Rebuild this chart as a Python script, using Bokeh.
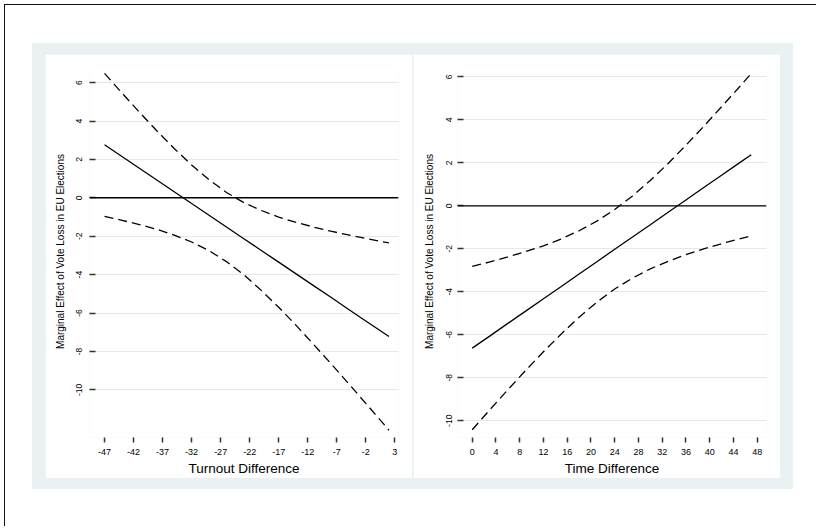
from bokeh.plotting import figure
from bokeh.layouts import row, column
from bokeh.models import Range1d, FixedTicker, Span, Spacer
from bokeh.embed import file_html
from bokeh.resources import INLINE

# ---- data ----
turnout_x = [-47, -44, -41, -38, -35, -32, -29, -26, -23, -20, -17, -14, -11, -8, -5, -2, 2]
turnout_effect = [2.76, 2.15, 1.54, 0.93, 0.32, -0.30, -0.91, -1.52, -2.13, -2.74, -3.35, -3.96, -4.57, -5.18, -5.80, -6.41, -7.22]
turnout_upper = [6.48, 5.46, 4.46, 3.49, 2.57, 1.71, 0.94, 0.28, -0.25, -0.66, -1.00, -1.28, -1.52, -1.74, -1.93, -2.12, -2.35]
turnout_lower = [-0.96, -1.17, -1.39, -1.64, -1.94, -2.30, -2.75, -3.32, -4.01, -4.82, -5.70, -6.64, -7.63, -8.63, -9.66, -10.70, -12.10]
turnout_ticks = [-47, -42, -37, -32, -27, -22, -17, -12, -7, -2, 3]

time_x = [0, 3, 6, 9, 12, 15, 18, 21, 24, 27, 30, 33, 36, 39, 42, 45, 47]
time_effect = [-6.62, -6.05, -5.47, -4.90, -4.32, -3.75, -3.17, -2.60, -2.02, -1.45, -0.88, -0.30, 0.27, 0.85, 1.42, 2.00, 2.38]
time_upper = [-2.82, -2.61, -2.38, -2.13, -1.86, -1.54, -1.16, -0.71, -0.17, 0.46, 1.18, 1.97, 2.82, 3.70, 4.61, 5.53, 6.16]
time_lower = [-10.42, -9.48, -8.56, -7.66, -6.79, -5.96, -5.18, -4.48, -3.87, -3.36, -2.93, -2.58, -2.27, -2.00, -1.76, -1.54, -1.40]
time_ticks = [0, 4, 8, 12, 16, 20, 24, 28, 32, 36, 40, 44, 48]

y_ticks = [-10, -8, -6, -4, -2, 0, 2, 4, 6]
y_title = "Marginal Effect of Vote Loss in EU Elections"

FONT = "Liberation Sans"
PANEL = "#eaf1f3"


def make_panel(xs, eff, up, lo, xticks, xr, yr, xlabel, ystandoff, ylabstandoff):
    p = figure(width=367, height=424, x_range=Range1d(*xr), y_range=Range1d(*yr),
               output_backend="svg", toolbar_location=None,
               min_border_left=44, min_border_right=14, min_border_top=11, min_border_bottom=41)
    p.background_fill_color = "white"
    p.border_fill_color = "white"
    p.outline_line_color = None
    p.xgrid.visible = False
    p.ygrid.ticker = FixedTicker(ticks=y_ticks)
    p.ygrid.grid_line_color = "#e4e8e9"
    p.ygrid.grid_line_width = 1

    p.xaxis.ticker = FixedTicker(ticks=xticks)
    p.yaxis.ticker = FixedTicker(ticks=y_ticks)
    p.xaxis.major_label_overrides = {t: str(t) for t in xticks}
    p.yaxis.major_label_overrides = {t: str(t) for t in y_ticks}
    for ax in (p.xaxis[0], p.yaxis[0]):
        ax.axis_line_color = None
        ax.minor_tick_line_color = None
        ax.major_tick_line_color = "#333333"
        ax.major_tick_line_width = 1.5
        ax.major_label_text_font = FONT
        ax.major_label_text_color = "black"
        ax.axis_label_text_font = FONT
        ax.axis_label_text_font_style = "normal"
        ax.axis_label_text_color = "black"
    p.xaxis.major_label_text_font_size = "9px"
    p.yaxis.major_label_text_font_size = "8.5px"
    p.xaxis.major_tick_in = 0
    p.xaxis.major_tick_out = 5
    p.xaxis.major_label_standoff = 6
    p.xaxis.axis_label = xlabel
    p.xaxis.axis_label_text_font_size = "13.5px"
    p.xaxis.axis_label_standoff = 3

    p.yaxis.major_tick_in = 6
    p.yaxis.major_tick_out = 0
    p.yaxis.major_label_orientation = "vertical"
    p.yaxis.major_label_standoff = ystandoff
    p.yaxis.axis_label = y_title
    p.yaxis.axis_label_text_font_size = "10px"
    p.yaxis.axis_label_standoff = ylabstandoff

    p.add_layout(Span(location=0, dimension="width", line_color="black", line_width=1.4))
    p.line(xs, eff, line_color="black", line_width=1.3)
    p.line(xs, up, line_color="black", line_width=1.3, line_dash="9 5")
    p.line(xs, lo, line_color="black", line_width=1.3, line_dash="9 5")
    return p


p1 = make_panel(turnout_x, turnout_effect, turnout_upper, turnout_lower, turnout_ticks,
                (-49.59, 3.64), (-12.48, 6.89), "Turnout Difference", 7, 8)
p2 = make_panel(time_x, time_effect, time_upper, time_lower, time_ticks,
                (-2.48, 49.57), (-10.78, 6.53), "Time Difference", 5, 9)

inner = row(Spacer(width=13), p1, Spacer(width=1), p2, Spacer(width=13))
panel = column(Spacer(height=11), inner, Spacer(height=11),
               styles={"background-color": PANEL})
framed = column(Spacer(height=38), row(Spacer(width=27), panel, Spacer(width=23)), Spacer(height=37),
                styles={"border-top": "1px solid #111", "border-left": "1px solid #111",
                        "background-color": "white"})
page = column(Spacer(height=4), row(Spacer(width=4), framed))

open("out.html", "w").write(file_html(page, INLINE))
